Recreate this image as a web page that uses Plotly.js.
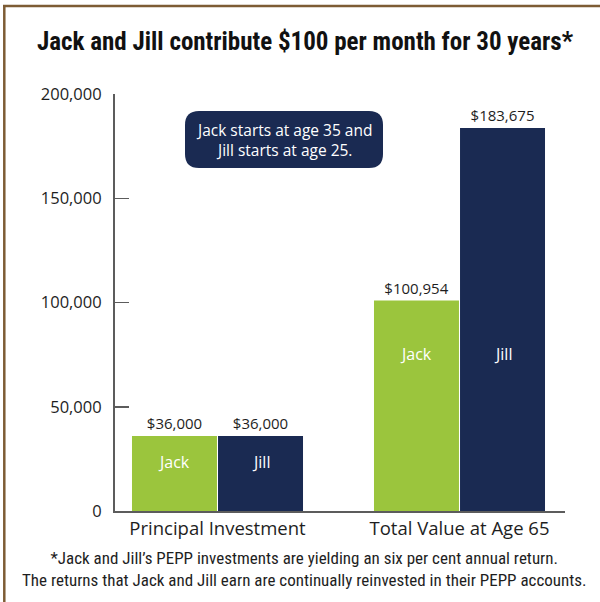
<!DOCTYPE html>
<html><head><meta charset="utf-8">
<script src="https://cdn.plot.ly/plotly-3.0.1.min.js"></script>
<style>html,body{margin:0;padding:0;background:#fff}</style>
</head><body>
<div id="chart" style="width:600px;height:602px"></div>
<script>
// ---- data ----
const categories = ["Principal Investment", "Total Value at Age 65"];
const jackValues = [36000, 100954];
const jillValues = [36000, 183675];
const seriesNames = ["Jack", "Jill"];
const yTickVals = [0, 50000, 100000, 150000, 200000];
const titleText = "Jack and Jill contribute $100 per month for 30 years*";
const boxText = "Jack starts at age 35 and<br>Jill starts at age 25.";
const footText = "*Jack and Jill\u2019s PEPP investments are yielding an six per cent annual return.<br>The returns that Jack and Jill earn are continually reinvested in their PEPP accounts.";

// ---- style ----
const GREEN = "#9bc53d", NAVY = "#1a2a52", AXIS = "#5c5c5c", TXT = "#1e1e1e", BORDER = "#7d5c34";
const REG = "Open Sans, sans-serif", COND = "Roboto Condensed, sans-serif";

const W = 600, H = 602, ML = 115, MR = 35, MT = 94, MB = 91;
const PW = W - ML - MR, PH = H - MT - MB;
const px2x = p => (p - ML) / PW, px2y = p => (H - MB - p) / PH;

function barTrace(name, vals, color) {
  return {
    type: "bar", name: name, x: categories, y: vals,
    marker: {color: color, line: {width: 0}},
    text: vals.map(v => "$" + v.toLocaleString("en-US")),
    textposition: "outside", cliponaxis: false,
    textfont: {family: REG, size: 15, color: TXT},
    hoverinfo: "skip"
  };
}
const traces = [barTrace(seriesNames[0], jackValues, GREEN), barTrace(seriesNames[1], jillValues, NAVY)];

// inside labels ("Jack"/"Jill") placed in data units
const barGap = 0.289, groupGap = 0.012;
const halfOff = (1 - barGap) / 4;
const insideY = [23500, 75500];
const annotations = [];
categories.forEach((c, i) => {
  [-1, 1].forEach((s, k) => {
    annotations.push({
      x: i + s * halfOff, y: insideY[i], xref: "x", yref: "y",
      text: seriesNames[k], showarrow: false,
      font: {family: REG, size: 16, color: "#ffffff"}
    });
  });
});
// callout box text
const boxCx = px2x(284), boxCy = px2y(139.5);
annotations.push({
  x: boxCx, y: boxCy, xref: "paper", yref: "paper", xanchor: "center", yanchor: "middle",
  text: boxText, showarrow: false, align: "center",
  font: {family: REG, size: 15.5, color: "#ffffff"}
});
// footnote
annotations.push({
  x: px2x(304), y: px2y(569), xref: "paper", yref: "paper", xanchor: "center", yanchor: "middle",
  text: footText, showarrow: false, align: "center",
  font: {family: COND, size: 17, color: TXT}
});

const bw = 99, bh = 28.5, r = 14;
const boxPath = `M ${-bw + r},${-bh} L ${bw - r},${-bh} Q ${bw},${-bh} ${bw},${-bh + r} L ${bw},${bh - r} Q ${bw},${bh} ${bw - r},${bh} L ${-bw + r},${bh} Q ${-bw},${bh} ${-bw},${bh - r} L ${-bw},${-bh + r} Q ${-bw},${-bh} ${-bw + r},${-bh} Z`;

const shapes = [
  {type: "path", xref: "paper", yref: "paper", xsizemode: "pixel", ysizemode: "pixel",
   xanchor: boxCx, yanchor: boxCy, path: boxPath, fillcolor: NAVY, line: {width: 0}, layer: "below"},
  {type: "line", xref: "paper", yref: "paper", x0: px2x(3), x1: px2x(605), y0: px2y(6), y1: px2y(6),
   line: {color: BORDER, width: 2.5}},
  {type: "line", xref: "paper", yref: "paper", x0: px2x(4.3), x1: px2x(4.3), y0: px2y(5), y1: px2y(610),
   line: {color: BORDER, width: 2.5}}
];

const layout = {
  width: W, height: H, autosize: false,
  margin: {l: ML, r: MR, t: MT, b: MB, pad: 0},
  paper_bgcolor: "#ffffff", plot_bgcolor: "#ffffff",
  showlegend: false, barmode: "group", bargap: barGap, bargroupgap: groupGap,
  title: {text: titleText, x: 305 / W, xanchor: "center", xref: "container", y: 1 - 41 / H, yanchor: "middle", yref: "container",
          font: {family: COND, size: 25, weight: 700, color: "#111"}},
  xaxis: {type: "category", range: [(ML - 217.5) / 242, (W - MR - 217.5) / 242], fixedrange: true,
          showline: true, linecolor: AXIS, linewidth: 2, ticks: "", showgrid: false, zeroline: false,
          tickfont: {family: REG, size: 18.5, color: TXT}},
  yaxis: {range: [0, 200000], tickvals: yTickVals, tickformat: ",d", fixedrange: true,
          showline: true, linecolor: AXIS, linewidth: 2, ticks: "inside", ticklen: 14, tickwidth: 1.5, tickcolor: AXIS,
          showgrid: false, zeroline: false, ticklabelstandoff: 8,
          tickfont: {family: REG, size: 16.5, color: TXT}},
  annotations: annotations, shapes: shapes
};
Plotly.newPlot("chart", traces, layout, {displayModeBar: false, staticPlot: true});
</script>
</body></html>
